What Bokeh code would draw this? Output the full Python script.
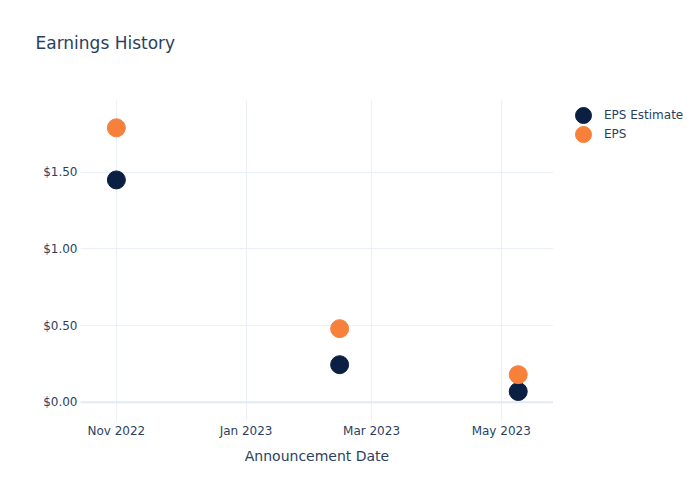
from datetime import datetime
from bokeh.plotting import figure
from bokeh.layouts import row
from bokeh.models import (ColumnDataSource, Range1d, DatetimeTickFormatter, MonthsTicker,
                          NumeralTickFormatter, Legend, LegendItem, FixedTicker, Title)
from bokeh.embed import file_html
from bokeh.resources import INLINE

dates = ["2022-11-01", "2023-02-14", "2023-05-09"]
eps_estimate = [1.45, 0.245, 0.07]
eps_actual = [1.79, 0.48, 0.18]
y_ticks = [0.0, 0.5, 1.0, 1.5]
series_names = ["EPS Estimate", "EPS"]

date_vals = [datetime.strptime(d, "%Y-%m-%d") for d in dates]
src = ColumnDataSource(dict(date=date_vals, est=eps_estimate, eps=eps_actual))

FONT = "DejaVu Sans"
TXT = "#2a3f5f"
NAVY = "#0b1f42"
ORANGE = "#f7803a"
GRID = "#ebf0f8"

p = figure(frame_width=473, frame_height=320, output_backend="svg", toolbar_location=None,
           x_axis_type="datetime",
           x_range=Range1d(datetime(2022, 10, 15, 3), datetime(2023, 5, 25, 14)),
           y_range=Range1d(-0.119, 1.968),
           min_border_left=80, min_border_right=0, min_border_top=100, min_border_bottom=80)
p.outline_line_color = None
p.background_fill_color = "white"
p.border_fill_color = "white"

r1 = p.scatter("date", "est", source=src, size=18, color=NAVY)
r2 = p.scatter("date", "eps", source=src, size=18, color=ORANGE)

p.xaxis.ticker = MonthsTicker(months=[0, 2, 4, 6, 8, 10])
p.xaxis.formatter = DatetimeTickFormatter(months="%b %Y", days="%b %Y")
p.yaxis.ticker = FixedTicker(ticks=y_ticks)
p.yaxis.formatter = NumeralTickFormatter(format="$0.00")

for ax in (p.xaxis[0], p.yaxis[0]):
    ax.axis_line_color = None
    ax.major_tick_line_color = None
    ax.minor_tick_line_color = None
    ax.major_tick_out = 0
    ax.major_tick_in = 0
    ax.minor_tick_out = 0
    ax.minor_tick_in = 0
    ax.major_label_text_font = FONT
    ax.major_label_text_font_size = "12px"
    ax.major_label_text_color = TXT
p.xaxis.major_label_standoff = 3
p.yaxis.major_label_standoff = 3

p.xaxis.axis_label = "Announcement Date"
p.xaxis.axis_label_text_font = FONT
p.xaxis.axis_label_text_font_size = "14px"
p.xaxis.axis_label_text_font_style = "normal"
p.xaxis.axis_label_text_color = TXT
p.xaxis.axis_label_standoff = 7

p.xgrid.grid_line_color = GRID
p.ygrid.grid_line_color = GRID
p.ygrid.grid_line_width = 1

# zero line
p.ray(x=[datetime(2022, 10, 1)], y=[0], length=0, angle=0, line_color="#e3e8f2", line_width=2)

# title: spacer next to the frame, then the visible title above it
p.title.text = ""
spacer = Title(text=" ", text_font_size="1px", standoff=45, text_color="white")
p.add_layout(spacer, "above")
main_title = Title(text="Earnings History", text_font=FONT, text_font_size="17px",
                   text_font_style="normal", text_color=TXT, align="left", offset=-45, standoff=0)
p.add_layout(main_title, "above")

# legend panel to the right of the plot (its frame is aligned with the main frame)
lg = figure(width=147, height=500, output_backend="svg", toolbar_location=None,
            x_range=Range1d(0, 1), y_range=Range1d(0, 1),
            x_axis_location=None, y_axis_location=None, min_border=0)
lg.outline_line_color = None
lg.grid.visible = False
# same data, far outside this panel's ranges: only used to draw the legend glyphs
l1 = lg.scatter("date", "est", source=src, size=18, color=NAVY)
l2 = lg.scatter("date", "eps", source=src, size=18, color=ORANGE)


def make_legend(label, renderer, loc):
    return Legend(items=[LegendItem(label=label, renderers=[renderer], index=0)],
                  location=loc, orientation="vertical",
                  label_text_font=FONT, label_text_font_size="12px", label_text_color=TXT,
                  glyph_width=40, glyph_height=40, label_height=40, spacing=0,
                  label_standoff=1, padding=4, margin=0,
                  border_line_color=None, background_fill_alpha=0)


lg.add_layout(make_legend(series_names[0], l1, (10, 285)), "center")
lg.add_layout(make_legend(series_names[1], l2, (10, 266)), "center")

layout = row(p, lg, spacing=0)
open("out.html", "w").write(file_html(layout, INLINE))
